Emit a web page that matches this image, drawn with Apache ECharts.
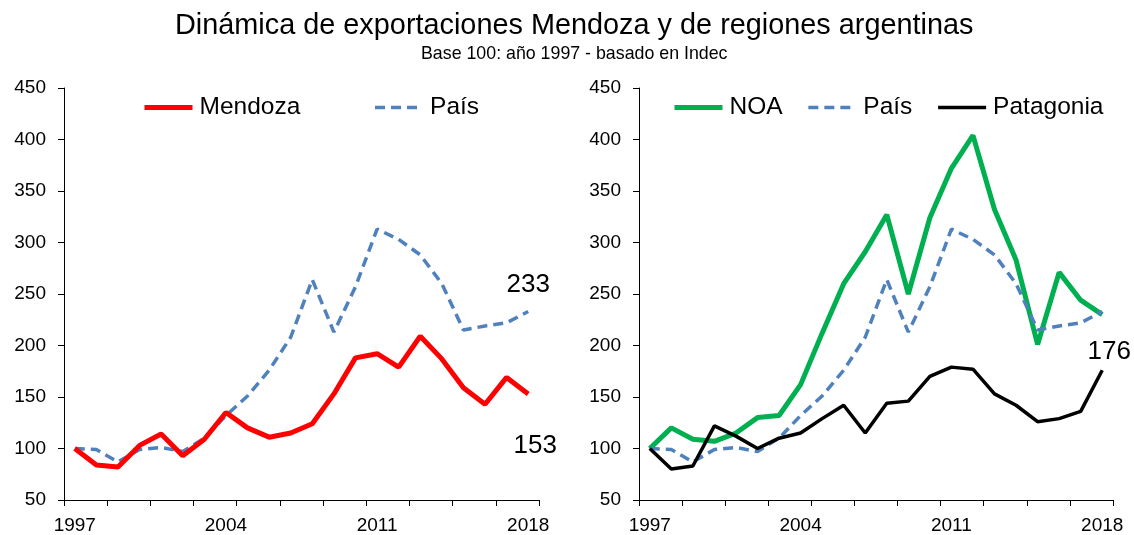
<!DOCTYPE html>
<html><head><meta charset="utf-8">
<script src="https://cdn.jsdelivr.net/npm/echarts@6/dist/echarts.min.js"></script>
<style>html,body{margin:0;padding:0;background:#fff}#c{width:1134px;height:535px}</style>
</head><body><div id="c"></div>
<script>
const years = ['1997','1998','1999','2000','2001','2002','2003','2004','2005','2006','2007','2008','2009','2010','2011','2012','2013','2014','2015','2016','2017','2018'];
const mendoza   = [100, 84, 82, 103, 114, 93, 109, 135, 120, 111, 115, 124, 153, 188, 192, 179, 209, 187, 159, 143, 169, 153];
const pais      = [100, 99, 87, 99, 101, 97, 110, 132, 151, 176, 208, 264, 213, 257, 313, 303, 288, 260, 215, 219, 222, 233];
const noa       = [100, 120, 109, 107, 115, 130, 132, 162, 212, 260, 291, 327, 250, 324, 372, 404, 332, 283, 201, 271, 244, 230];
const patagonia = [100, 80, 83, 122, 112, 100, 110, 115, 129, 142, 115, 144, 146, 170, 179, 177, 153, 142, 126, 129, 136, 176];
const yMin = 50, yMax = 450, yStep = 50;

const FONT = '"Liberation Sans", Arial, sans-serif';
function withLastLabel(arr, lbl) {
  return arr.map((v, i) => i === arr.length - 1 ? { value: v, label: Object.assign({ show: true, color: '#000', fontSize: 26, fontFamily: FONT }, lbl) } : v);
}
const xAxisBase = (gi) => ({
  type: 'category', gridIndex: gi, data: years, boundaryGap: true,
  axisLine: { lineStyle: { color: '#000', width: 1 } },
  axisTick: { show: true, interval: 1, length: 6, lineStyle: { color: '#000' } },
  axisLabel: { interval: 6, color: '#000', fontSize: 19, fontFamily: FONT, margin: 16 },
  splitLine: { show: false }
});
const yAxisBase = (gi) => ({
  type: 'value', gridIndex: gi, min: yMin, max: yMax, interval: yStep,
  axisLine: { show: true, lineStyle: { color: '#000', width: 1 } },
  axisTick: { show: true, length: 6, lineStyle: { color: '#000' } },
  axisLabel: { color: '#000', fontSize: 19, fontFamily: FONT, margin: 18 },
  splitLine: { show: false }
});
const dashStyle = { color: '#4F81BD', width: 3.5, type: [10, 6] };
const legendText = { fontSize: 24.5, color: '#000', fontFamily: FONT, padding: [0, 0, 0, 2] };
const lineBase = { type: 'line', symbol: 'circle', symbolSize: 0, showSymbol: true, showAllSymbol: true };

const chart = echarts.init(document.getElementById('c'));
chart.setOption({
  animation: false,
  backgroundColor: '#fff',
  title: [
    { text: 'Dinámica de exportaciones Mendoza y de regiones argentinas', left: 170, top: 7,
      textStyle: { fontSize: 28.85, fontWeight: 'normal', color: '#000', fontFamily: FONT } },
    { text: 'Base 100: año 1997 - basado en Indec', left: 416, top: 40,
      textStyle: { fontSize: 17.8, fontWeight: 'normal', color: '#000', fontFamily: FONT } }
  ],
  legend: [
    { data: ['Mendoza', 'País'], left: 137, top: 90, itemWidth: 48, itemHeight: 14, itemGap: 73,
      itemStyle: { opacity: 0 }, lineStyle: { width: 'inherit' }, textStyle: legendText },
    { data: ['NOA', 'País ', 'Patagonia'], left: 667, top: 90, itemWidth: 48, itemHeight: 14, itemGap: 24,
      itemStyle: { opacity: 0 }, lineStyle: { width: 'inherit' }, formatter: (n) => n.trim(), textStyle: legendText }
  ],
  grid: [
    { left: 64, right: 595, top: 88, bottom: 35 },
    { left: 639, right: 21, top: 88, bottom: 35 }
  ],
  xAxis: [xAxisBase(0), xAxisBase(1)],
  yAxis: [yAxisBase(0), yAxisBase(1)],
  series: [
    Object.assign({}, lineBase, { name: 'País', xAxisIndex: 0, yAxisIndex: 0, z: 2,
      lineStyle: dashStyle, itemStyle: { color: '#4F81BD' },
      data: withLastLabel(pais, { position: 'top', distance: 14 }) }),
    Object.assign({}, lineBase, { name: 'Mendoza', xAxisIndex: 0, yAxisIndex: 0, z: 3,
      lineStyle: { color: '#FF0000', width: 5 }, itemStyle: { color: '#FF0000' },
      data: withLastLabel(mendoza, { position: 'bottom', distance: 39, offset: [7, 0] }) }),
    Object.assign({}, lineBase, { name: 'NOA', xAxisIndex: 1, yAxisIndex: 1, z: 2,
      lineStyle: { color: '#00B050', width: 5 }, itemStyle: { color: '#00B050' },
      data: noa }),
    Object.assign({}, lineBase, { name: 'País ', xAxisIndex: 1, yAxisIndex: 1, z: 3,
      lineStyle: dashStyle, itemStyle: { color: '#4F81BD' },
      data: pais }),
    Object.assign({}, lineBase, { name: 'Patagonia', xAxisIndex: 1, yAxisIndex: 1, z: 4,
      lineStyle: { color: '#000', width: 3.5 }, itemStyle: { color: '#000' },
      data: withLastLabel(patagonia, { position: 'top', distance: 5, offset: [7, 0] }) })
  ]
});
</script>
</body></html>
